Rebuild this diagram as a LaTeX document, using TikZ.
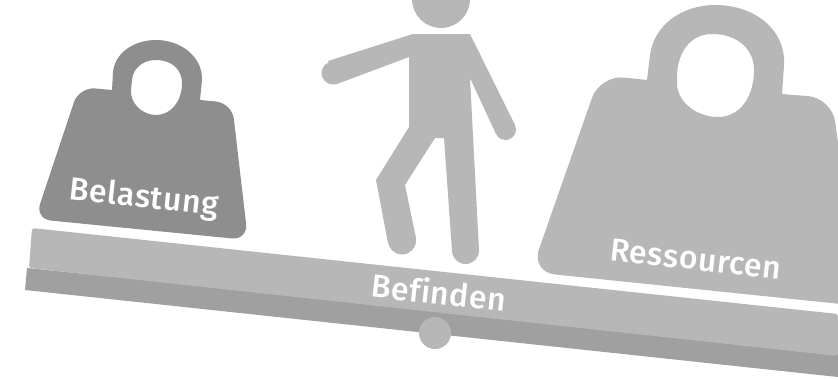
\documentclass[tikz,border=0pt]{standalone}
\usepackage{fontspec}
\setsansfont{Fira Sans}
\newfontface\weightfont[LetterSpace=2,Ligatures=CommonOff]{Fira Sans Medium}
\usepackage{xcolor}
\usepackage{tikz}
\definecolor{scaledark}{HTML}{8E8E8E}
\definecolor{scalelight}{HTML}{B7B7B7}
\definecolor{scalebeam}{HTML}{A0A0A0}
\begin{document}
\begin{tikzpicture}[
  x=0.75pt,y=-0.75pt,
  weightlabel/.style={text=white,font=\weightfont\fontsize{24}{26}\selectfont,rotate=-6.3,inner sep=0pt},
  shapefill/.style={fill=scalelight,draw=none}
]
\useasboundingbox (0,0) rectangle (838,379);
\clip (0,0) rectangle (838,379);
% beam
\fill[scalebeam] (27,268) -- (25,290) -- (838,377) -- (838,350) -- cycle;
\fill[scalelight,rounded corners=2pt] (32,228) -- (29,268) -- (838,356) -- (838,314) -- cycle;
\fill[shapefill] (435,333) circle (16);
% left weight
\fill[scaledark,even odd rule,rounded corners=12pt]
  (79,87) [sharp corners] -- (112,90) -- (113,72)
  .. controls (115,52) and (135,40) .. (156,40)
  .. controls (182,40) and (203,58) .. (202,80)
  -- (200,100) [rounded corners=12pt] -- (232,103) -- (248,240) -- (35,219) -- cycle
  [sharp corners] (132,80) .. controls (133,68) and (143,60) .. (156,60)
  .. controls (172,60) and (183,70) .. (182,85)
  .. controls (181,103) and (170,115) .. (156,115)
  .. controls (142,115) and (130,103) .. (131,90) -- cycle;
% right weight
\fill[scalelight,even odd rule,rounded corners=18pt]
  (600,75) [sharp corners] -- (647,80) -- (650,55)
  .. controls (654,25) and (682,5) .. (715,5)
  .. controls (755,5) and (786,30) .. (784,65)
  -- (782,94) [rounded corners=18pt] -- (832,98) -- (860,306) -- (531,272) -- cycle
  [sharp corners] (677,75) .. controls (678,50) and (692,34) .. (712,34)
  .. controls (738,34) and (755,50) .. (754,72)
  .. controls (753,100) and (738,117) .. (718,117)
  .. controls (695,117) and (676,100) .. (677,82) -- cycle;
% person
\fill[shapefill] (441,-1) circle (29);
\fill[shapefill] (413,34) -- (470,34) -- (515,125) -- (496,134) -- (470,78) -- (479,250)
  -- (452,251) -- (444,138) -- (435,138) -- (405,185) -- (416,238) -- (388,243)
  -- (376,180) -- (409,127) -- (409,57) -- (337,84) -- (328,61) -- cycle;
\fill[shapefill] (333,73) circle (11.5);
\fill[shapefill] (505.5,129.5) circle (10.5);
\fill[shapefill] (465.5,250.5) circle (13.5);
\fill[shapefill] (402,240.5) circle (14);
% labels
\node[weightlabel] (belastung) at (144,199) {Belastung};
\node[weightlabel] (befinden) at (439,292) {Befinden};
\node[weightlabel] (ressourcen) at (696,259) {Ressourcen};
\end{tikzpicture}
\end{document}
